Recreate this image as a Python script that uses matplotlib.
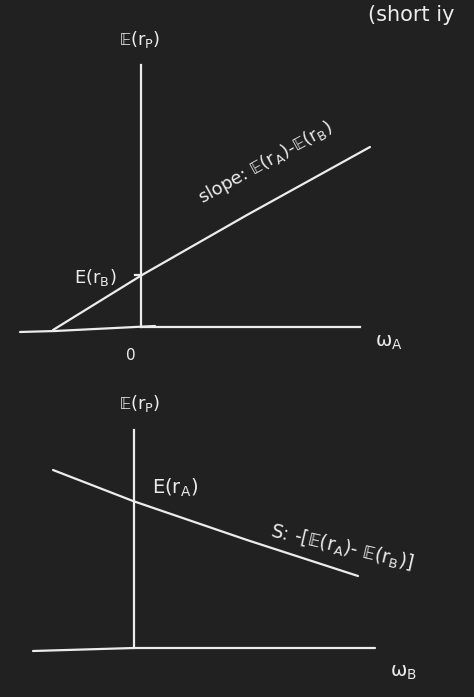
import matplotlib
matplotlib.use("Agg")
import matplotlib.pyplot as plt

plt.rcParams['mathtext.fontset'] = 'dejavusans'
plt.rcParams['mathtext.default'] = 'regular'
plt.rcParams['font.family'] = ['DejaVu Sans']

BG = '#222121'
FG = '#ececec'

# ---- top sketch: E(r_p) vs w_A ----
top_axis_x = [-1.21, -0.86, 0.14]
top_axis_y = [-0.05, -0.04, 0.01]
top_haxis_x = [0.0, 2.19]
top_vaxis_y = [0.0, 2.62]
top_line_x = [-0.88, 0.01, 1.06, 2.29]
top_line_y = [-0.03, 0.52, 1.12, 1.80]

# ---- bottom sketch: E(r_p) vs w_B ----
bot_axis_x = [-1.01, 0.0, 2.41]
bot_axis_y = [-0.03, 0.0, 0.0]
bot_vaxis_y = [0.0, 2.18]
bot_line_x = [-0.81, -0.01, 1.13, 2.24]
bot_line_y = [1.78, 1.47, 1.08, 0.72]

W, H = 474, 697
fig = plt.figure(figsize=(W / 100, H / 100), dpi=100, facecolor=BG)

# top axes: pixel rows 0..380
ax1 = fig.add_axes([0, 1 - 380 / H, 1, 380 / H])
ax1.set_xlim(-1.41, 3.33)
ax1.set_ylim(-0.53, 3.27)
# bottom axes: pixel rows 380..697
ax2 = fig.add_axes([0, 0, 1, 317 / H])
ax2.set_xlim(-1.34, 3.40)
ax2.set_ylim(-0.49, 2.68)
for ax in (ax1, ax2):
    ax.set_facecolor(BG)
    ax.axis('off')

lw = 1.6
ax1.plot(top_axis_x, top_axis_y, color=FG, lw=lw, solid_capstyle='round')
ax1.plot(top_haxis_x, [0, 0], color=FG, lw=lw)
ax1.plot([0, 0], top_vaxis_y, color=FG, lw=lw)
ax1.plot(top_line_x, top_line_y, color=FG, lw=lw, solid_capstyle='round')
ax1.plot([-0.06, 0.0], [0.52, 0.52], color=FG, lw=lw)

tk = dict(color=FG, ha='center', va='center')
ax1.text(2.27, 3.12, '(short iy', color=FG, ha='left', va='center', fontsize=15)
ax1.text(-0.01, 2.87, r'$\mathbb{E}(r_P)$', fontsize=13, **tk)
ax1.text(1.24, 1.64, r'slope: $\mathbb{E}(r_A)$-$\mathbb{E}(r_B)$', fontsize=13,
         rotation=29, rotation_mode='anchor', **tk)
ax1.text(-0.46, 0.50, r'E($r_B$)', fontsize=13, **tk)
ax1.text(-0.10, -0.29, '0', fontsize=11, **tk)
ax1.text(2.48, -0.16, r'$\omega_A$', fontsize=14, **tk)

ax2.plot(bot_axis_x, bot_axis_y, color=FG, lw=lw, solid_capstyle='round')
ax2.plot([0, 0], bot_vaxis_y, color=FG, lw=lw)
ax2.plot(bot_line_x, bot_line_y, color=FG, lw=lw, solid_capstyle='round')

ax2.text(0.06, 2.45, r'$\mathbb{E}(r_P)$', fontsize=13, **tk)
ax2.text(0.41, 1.60, r'E($r_A$)', fontsize=14, **tk)
ax2.text(2.08, 1.00, r'S: -[$\mathbb{E}(r_A)$- $\mathbb{E}(r_B)$]', fontsize=13.5,
         rotation=-13, rotation_mode='anchor', **tk)
ax2.text(2.69, -0.24, r'$\omega_B$', fontsize=14, **tk)

fig.savefig('out.png', dpi=100, facecolor=BG)
